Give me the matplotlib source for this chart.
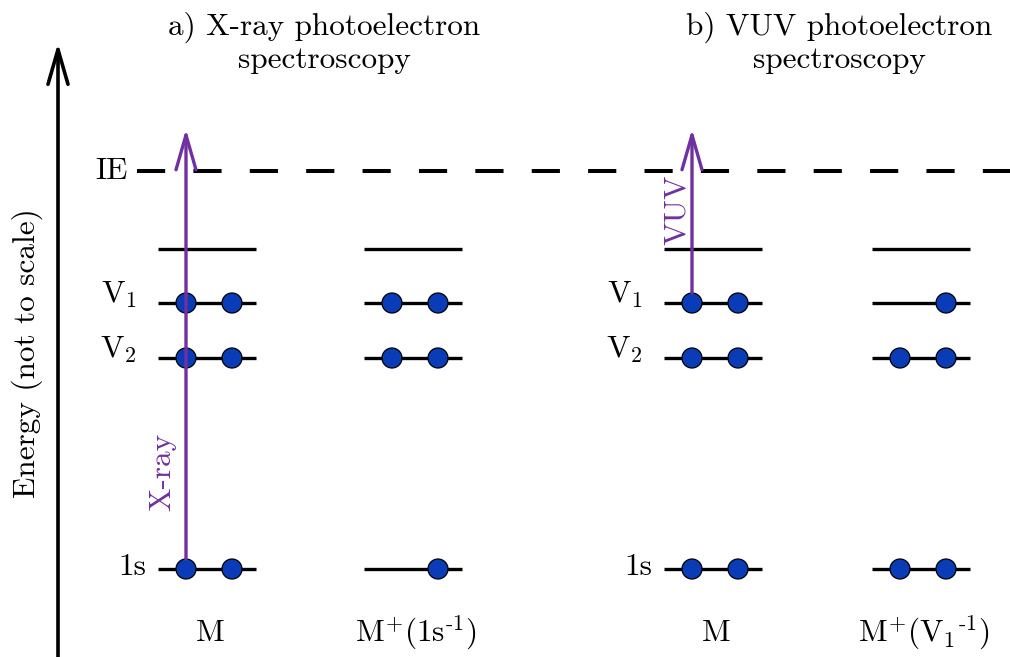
import matplotlib
matplotlib.use("Agg")
import matplotlib.pyplot as plt
from matplotlib.patches import Circle, FancyArrowPatch, ArrowStyle

plt.rcParams["font.family"] = ["cmr10", "DejaVu Serif"]
plt.rcParams["mathtext.fontset"] = "cm"
plt.rcParams["axes.unicode_minus"] = False

# Energy levels (arbitrary units, not to scale)
level_names = ["1s", "V2", "V1", "LUMO"]
level_energy = [88, 299, 354, 408]
ionisation_energy = 486
photon_top = 528

# Level labels drawn at the left of each "M" column
level_labels = ["1s", "V$_2$", "V$_1$", None]

# States (columns) and their electron occupation per level: (left slot, right slot)
state_labels = ["M", r"M$^{+}$(1s$^{\text{-}1}$)", "M", r"M$^{+}$(V$_1$$^{\text{-}1}$)"]
occupation = [
    [(1, 1), (1, 1), (1, 1), (0, 0)],   # M
    [(0, 1), (1, 1), (1, 1), (0, 0)],   # M+ (1s hole)
    [(1, 1), (1, 1), (1, 1), (0, 0)],   # M
    [(1, 1), (1, 1), (0, 1), (0, 0)],   # M+ (V1 hole)
]

panel_titles = ["a) X-ray photoelectron\nspectroscopy",
                "b) VUV photoelectron\nspectroscopy"]
photon_labels = ["X-ray", "VUV"]
photon_from_level = ["1s", "V1"]

# Layout
col_left = [158, 364, 664, 872]
col_width = 98
slot_offset = (28, 74)
radius = 10
title_x = [324, 839]
photon_col = [0, 2]
fs = 22.5

purple = "#7030a0"
blue = "#0a3cb8"

head = ArrowStyle("->", head_length=1.25, head_width=0.36)

fig = plt.figure(figsize=(10.1, 6.57), dpi=100)
ax = fig.add_axes([0, 0, 1, 1])
ax.set_xlim(0, 1010)
ax.set_ylim(0, 657)
ax.set_aspect("equal")
ax.axis("off")

# Energy axis
ax.add_patch(FancyArrowPatch((58, 0), (58, 614), arrowstyle=head,
                             mutation_scale=20, lw=2.6, color="black",
                             shrinkA=0, shrinkB=0, zorder=3))
ax.text(27, 304, "Energy (not to scale)", rotation=90, ha="center", va="center",
        fontsize=fs)

# Ionisation energy
ax.plot([137, 1015], [ionisation_energy] * 2, color="black", lw=2.9,
        dashes=(7.0, 7.0), solid_capstyle="butt", zorder=1)
ax.text(128, ionisation_energy, "IE", ha="right", va="center", fontsize=fs)

# Levels and electrons
for c, occ in enumerate(occupation):
    x0 = col_left[c]
    for e, slots in zip(level_energy, occ):
        ax.plot([x0, x0 + col_width], [e, e], color="black", lw=2.4,
                solid_capstyle="butt", zorder=2)
        for filled, dx in zip(slots, slot_offset):
            if filled:
                ax.add_patch(Circle((x0 + dx, e), radius, facecolor=blue,
                                    edgecolor="black", lw=0.9, zorder=4))
    ax.text(x0 + col_width / 2 + 3, 16, state_labels[c], ha="center",
            va="baseline", fontsize=fs)

# Level labels for the neutral molecule columns
for c in photon_col:
    x0 = col_left[c]
    for name, e, lab in zip(level_names, level_energy, level_labels):
        if lab is None:
            continue
        if name == "1s":
            ax.text(x0 - 12, e - 6, lab, ha="right", va="baseline", fontsize=fs)
        else:
            ax.text(x0 - 21, e, lab, ha="right", va="baseline", fontsize=fs)

# Photon excitation arrows
for k, c in enumerate(photon_col):
    x = col_left[c] + slot_offset[0]
    e0 = level_energy[level_names.index(photon_from_level[k])]
    ax.add_patch(FancyArrowPatch((x, e0 + radius), (x, photon_top), arrowstyle=head,
                                 mutation_scale=20, lw=2.4, color=purple,
                                 shrinkA=0, shrinkB=0, zorder=5))

ax.text(162, 185, photon_labels[0], rotation=90, ha="center", va="center",
        color=purple, fontsize=fs)
ax.text(677, 447, photon_labels[1], rotation=90, ha="center", va="center",
        color=purple, fontsize=fs)

# Panel titles
for t, x in zip(panel_titles, title_x):
    ax.text(x, 589, t, ha="center", va="baseline", fontsize=fs,
            linespacing=1.15, multialignment="center")

fig.savefig("out.png", dpi=100)
